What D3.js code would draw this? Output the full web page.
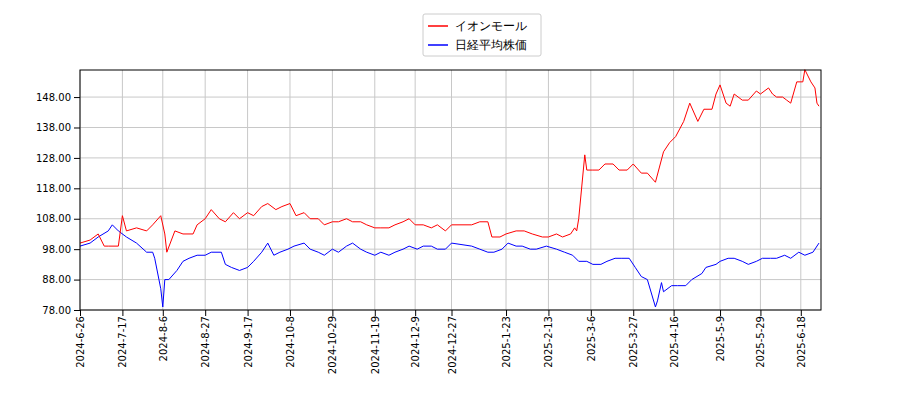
<!DOCTYPE html>
<html><head><meta charset="utf-8">
<script src="https://cdn.jsdelivr.net/npm/d3@7"></script>
<style>body{margin:0;background:#fff}text{font-family:"DejaVu Sans",sans-serif}</style>
</head><body><svg id="c" width="900" height="400"></svg>
<script>
const seriesNames=["イオンモール","日経平均株価"];
const colors=["#ff0000","#0000ff"];
const aeonDates=["2024-06-26","2024-07-01","2024-07-05","2024-07-08","2024-07-10","2024-07-15","2024-07-17","2024-07-19","2024-07-24","2024-07-29","2024-08-01","2024-08-05","2024-08-07","2024-08-08","2024-08-12","2024-08-16","2024-08-21","2024-08-23","2024-08-27","2024-08-30","2024-09-03","2024-09-06","2024-09-10","2024-09-13","2024-09-17","2024-09-20","2024-09-24","2024-09-27","2024-10-01","2024-10-04","2024-10-08","2024-10-11","2024-10-15","2024-10-18","2024-10-22","2024-10-25","2024-10-29","2024-11-01","2024-11-05","2024-11-08","2024-11-12","2024-11-15","2024-11-19","2024-11-22","2024-11-26","2024-11-29","2024-12-03","2024-12-06","2024-12-09","2024-12-13","2024-12-17","2024-12-20","2024-12-24","2024-12-27","2025-01-06","2025-01-10","2025-01-14","2025-01-16","2025-01-20","2025-01-23","2025-01-28","2025-02-01","2025-02-05","2025-02-10","2025-02-13","2025-02-17","2025-02-20","2025-02-24","2025-02-26","2025-02-27","2025-02-28","2025-03-03","2025-03-04","2025-03-07","2025-03-10","2025-03-13","2025-03-17","2025-03-20","2025-03-24","2025-03-27","2025-03-31","2025-04-03","2025-04-07","2025-04-09","2025-04-11","2025-04-14","2025-04-17","2025-04-21","2025-04-24","2025-04-28","2025-05-01","2025-05-05","2025-05-07","2025-05-09","2025-05-12","2025-05-14","2025-05-16","2025-05-20","2025-05-23","2025-05-27","2025-05-29","2025-06-02","2025-06-04","2025-06-06","2025-06-09","2025-06-11","2025-06-13","2025-06-16","2025-06-19","2025-06-20","2025-06-23","2025-06-25","2025-06-26","2025-06-27"];
const aeonValues=[100,101,103,99,99,99,109,104,105,104,106,109,103,97,104,103,103,106,108,111,108,107,110,108,110,109,112,113,111,112,113,109,110,108,108,106,107,107,108,107,107,106,105,105,105,106,107,108,106,106,105,106,104,106,106,107,107,102,102,103,104,104,103,102,102,103,102,103,105,104,108,129,124,124,124,126,126,124,124,126,123,123,120,125,130,133,135,140,146,140,144,144,149,152,146,145,149,147,147,150,149,151,149,148,148,147,146,153,153,157,153,151,146,145];
const nikkeiDates=["2024-06-26","2024-07-01","2024-07-05","2024-07-10","2024-07-12","2024-07-15","2024-07-19","2024-07-24","2024-07-29","2024-08-01","2024-08-02","2024-08-05","2024-08-06","2024-08-07","2024-08-09","2024-08-13","2024-08-16","2024-08-19","2024-08-23","2024-08-27","2024-08-30","2024-09-04","2024-09-06","2024-09-09","2024-09-13","2024-09-17","2024-09-20","2024-09-24","2024-09-27","2024-09-30","2024-10-03","2024-10-07","2024-10-10","2024-10-15","2024-10-18","2024-10-22","2024-10-25","2024-10-29","2024-11-01","2024-11-05","2024-11-08","2024-11-12","2024-11-15","2024-11-19","2024-11-22","2024-11-26","2024-11-29","2024-12-03","2024-12-06","2024-12-10","2024-12-13","2024-12-17","2024-12-20","2024-12-24","2024-12-27","2025-01-06","2025-01-10","2025-01-14","2025-01-17","2025-01-21","2025-01-24","2025-01-28","2025-01-31","2025-02-04","2025-02-07","2025-02-12","2025-02-17","2025-02-21","2025-02-25","2025-02-28","2025-03-04","2025-03-07","2025-03-11","2025-03-14","2025-03-18","2025-03-21","2025-03-25","2025-03-28","2025-03-31","2025-04-03","2025-04-07","2025-04-08","2025-04-10","2025-04-11","2025-04-15","2025-04-18","2025-04-22","2025-04-25","2025-04-30","2025-05-02","2025-05-07","2025-05-09","2025-05-13","2025-05-16","2025-05-20","2025-05-23","2025-05-27","2025-05-30","2025-06-03","2025-06-06","2025-06-10","2025-06-13","2025-06-17","2025-06-20","2025-06-24","2025-06-27"];
const nikkeiValues=[99,100,102,104,106,104,102,100,97,97,95,85,79,88,88,91,94,95,96,96,97,97,93,92,91,92,94,97,100,96,97,98,99,100,98,97,96,98,97,99,100,98,97,96,97,96,97,98,99,98,99,99,98,98,100,99,98,97,97,98,100,99,99,98,98,99,98,97,96,94,94,93,93,94,95,95,95,92,89,88,79,81,87,84,86,86,86,88,90,92,93,94,95,95,94,93,94,95,95,95,96,95,97,96,97,100];
const yTicks=[78,88,98,108,118,128,138,148];
const xTickLabels=["2024-6-26","2024-7-17","2024-8-6","2024-8-27","2024-9-17","2024-10-8","2024-10-29","2024-11-19","2024-12-9","2024-12-27","2025-1-23","2025-2-13","2025-3-6","2025-3-27","2025-4-16","2025-5-9","2025-5-29","2025-6-18"];

const svg=d3.select("#c");
const L=80,R=821,T=70,B=310;
const pd=d3.timeParse("%Y-%m-%d");
const x=d3.scaleTime().domain([pd("2024-06-26"),pd("2025-06-28")]).range([L,R]);
const y=d3.scaleLinear().domain([78,156.9]).range([B,T]);
const tp=d3.timeParse("%Y-%m-%d");
const tickDates=xTickLabels.map(s=>tp(s));
// grid
svg.append("g").selectAll("line").data(yTicks).join("line")
 .attr("x1",L).attr("x2",R).attr("y1",d=>y(d)).attr("y2",d=>y(d)).attr("stroke","#c8c8c8");
svg.append("g").selectAll("line").data(tickDates).join("line")
 .attr("x1",d=>x(d)).attr("x2",d=>x(d)).attr("y1",T).attr("y2",B).attr("stroke","#c8c8c8");
const line=d3.line().x(d=>x(d[0])).y(d=>y(d[1]));
svg.append("path").datum(nikkeiDates.map((d,i)=>[pd(d),nikkeiValues[i]])).attr("d",line).attr("fill","none").attr("stroke",colors[1]).attr("stroke-width",1);
svg.append("path").datum(aeonDates.map((d,i)=>[pd(d),aeonValues[i]])).attr("d",line).attr("fill","none").attr("stroke",colors[0]).attr("stroke-width",1);
svg.append("rect").attr("x",L).attr("y",T).attr("width",R-L).attr("height",B-T).attr("fill","none").attr("stroke","#000");
const ya=svg.append("g").attr("transform",`translate(${L},0)`).call(d3.axisLeft(y).tickValues(yTicks).tickFormat(d3.format(".2f")).tickSizeOuter(0));
ya.select(".domain").remove();
ya.selectAll("text").attr("font-size",10).attr("fill","#000");
const xa=svg.append("g").attr("transform",`translate(0,${B})`).call(d3.axisBottom(x).tickValues(tickDates).tickFormat((d,i)=>xTickLabels[i]).tickSizeOuter(0));
xa.select(".domain").remove();
xa.selectAll("text").attr("font-size",10).attr("fill","#000").attr("text-anchor","end").attr("transform","rotate(-90)").attr("dx","-4").attr("dy","-0.3em").attr("x",0).attr("y",0).attr("dy","0.35em").attr("dx","-6");
// legend
const lg=svg.append("g");
lg.append("rect").attr("x",423).attr("y",14).attr("width",118).attr("height",42).attr("fill","#fff").attr("stroke","#ccc").attr("rx",2);
seriesNames.forEach((n,i)=>{
 lg.append("line").attr("x1",428).attr("x2",448).attr("y1",26+i*19).attr("y2",26+i*19).attr("stroke",colors[i]).attr("stroke-width",1.5);
 lg.append("text").attr("x",455).attr("y",30+i*19).attr("font-size",12).attr("font-family","Noto Sans CJK JP").text(n);
});
</script></body></html>
